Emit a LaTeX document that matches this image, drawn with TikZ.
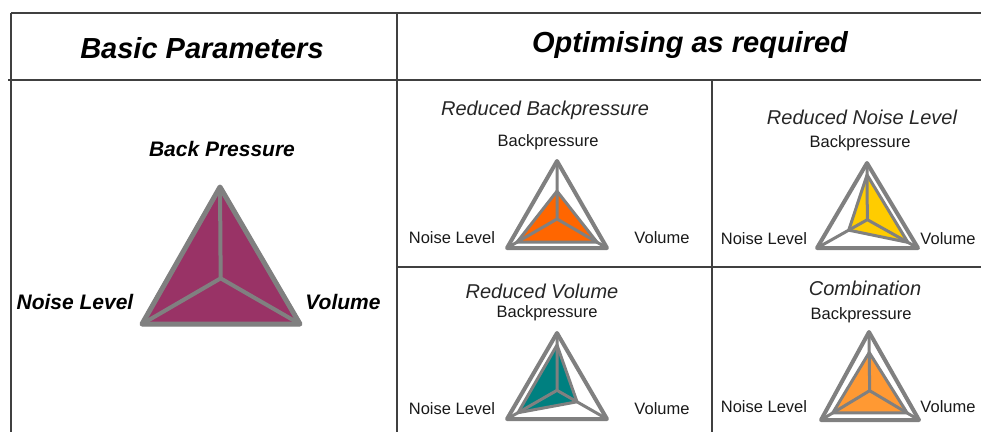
\documentclass[tikz,border=0pt]{standalone}
\usepackage{fontspec}
\setmainfont{Liberation Sans}
\usetikzlibrary{calc}
\definecolor{tgray}{HTML}{808080}
\definecolor{cmaroon}{HTML}{993366}
\definecolor{corange}{HTML}{FF6600}
\definecolor{cyellow}{HTML}{FFCC00}
\definecolor{cteal}{HTML}{008080}
\definecolor{clorange}{HTML}{FF9933}
\tikzset{
  rule/.style={draw=black!75, line width=1.4pt},
  head/.style={font=\fontsize{29}{34}\selectfont\bfseries\itshape, inner sep=0},
  biglbl/.style={font=\fontsize{21}{24}\selectfont\bfseries\itshape, inner sep=0},
  sublbl/.style={font=\fontsize{20}{23}\selectfont\itshape, inner sep=0, text=black!85},
  axlbl/.style={font=\fontsize{16.5}{19}\selectfont, inner sep=0, text=black!90},
}
% #1 apex, #2 bottom-left, #3 bottom-right, #4 #5 #6 fractions, #7 colour, #8 outer width, #9 spoke width
\newcommand\radartri[9]{%
  \coordinate (tA) at #1;
  \coordinate (tL) at #2;
  \coordinate (tR) at #3;
  \coordinate (tC) at (barycentric cs:tA=1,tL=1,tR=1);
  \coordinate (iA) at ($(tC)!#4!(tA)$);
  \coordinate (iL) at ($(tC)!#5!(tL)$);
  \coordinate (iR) at ($(tC)!#6!(tR)$);
  \fill[white] (tA) -- (tL) -- (tR) -- cycle;
  \filldraw[fill=#7, draw=tgray, line width=#9, line join=round] (iA) -- (iL) -- (iR) -- cycle;
  \draw[tgray, line width=#9] (tC) -- (tA) (tC) -- (tL) (tC) -- (tR);
  \draw[tgray, line width=#8, line join=round] (tA) -- (tL) -- (tR) -- cycle;
}
\begin{document}
\begin{tikzpicture}[x=1pt, y=-1pt]
\useasboundingbox (0,0) rectangle (981,432);
% table rules
\coordinate (tl) at (11,13);
\coordinate (tr) at (981,13);
\coordinate (bl) at (11,432);
\coordinate (hl) at (8,80);
\coordinate (hr) at (981,80);
\coordinate (mt) at (397,13);
\coordinate (mb) at (397,432);
\coordinate (qt) at (712,80);
\coordinate (qb) at (712,432);
\coordinate (ml) at (397,267);
\coordinate (mr) at (981,267);
\draw[rule] (tl) -- (tr);
\draw[rule] (tl) -- (bl);
\draw[rule] (hl) -- (hr);
\draw[rule] (mt) -- (mb);
\draw[rule] (qt) -- (qb);
\draw[rule] (ml) -- (mr);
% headers
\node[head] (h1) at (202,48) {Basic Parameters};
\node[head] (h2) at (690,45) {Optimising as required};
% basic
\radartri{(220,187)}{(142,324)}{(300,324)}{1}{1}{1}{cmaroon}{5pt}{4pt}
\node[biglbl] (bp) at (222,149) {Back Pressure};
\node[biglbl] (bn) at (75,302) {Noise Level};
\node[biglbl] (bv) at (343,302) {Volume};
% reduced backpressure
\radartri{(557,161)}{(507,248)}{(607,248)}{0.48}{0.8}{0.8}{corange}{4pt}{3pt}
\node[sublbl] (s1) at (545,110) {Reduced Backpressure};
\node[axlbl] (a1) at (548,142) {Backpressure};
\node[axlbl] (n1) at (452,238) {Noise Level};
\node[axlbl] (v1) at (662,238) {Volume};
% reduced noise level
\radartri{(867,163)}{(817,248)}{(918,248)}{0.79}{0.37}{0.8}{cyellow}{4pt}{3pt}
\node[sublbl] (s2) at (862,117) {Reduced Noise Level};
\node[axlbl] (a2) at (860,143) {Backpressure};
\node[axlbl] (n2) at (764,239) {Noise Level};
\node[axlbl] (v2) at (948,239) {Volume};
% reduced volume
\radartri{(557,333)}{(507,419)}{(607,419)}{0.79}{0.78}{0.4}{cteal}{4pt}{3pt}
\node[sublbl] (s3) at (542,291) {Reduced Volume};
\node[axlbl] (a3) at (547,313) {Backpressure};
\node[axlbl] (n3) at (452,409) {Noise Level};
\node[axlbl] (v3) at (662,409) {Volume};
% combination
\radartri{(869,332)}{(821,420)}{(919,420)}{0.65}{0.76}{0.76}{clorange}{4pt}{3pt}
\node[sublbl] (s4) at (865,288) {Combination};
\node[axlbl] (a4) at (861,315) {Backpressure};
\node[axlbl] (n4) at (764,407) {Noise Level};
\node[axlbl] (v4) at (948,407) {Volume};
\end{tikzpicture}
\end{document}
